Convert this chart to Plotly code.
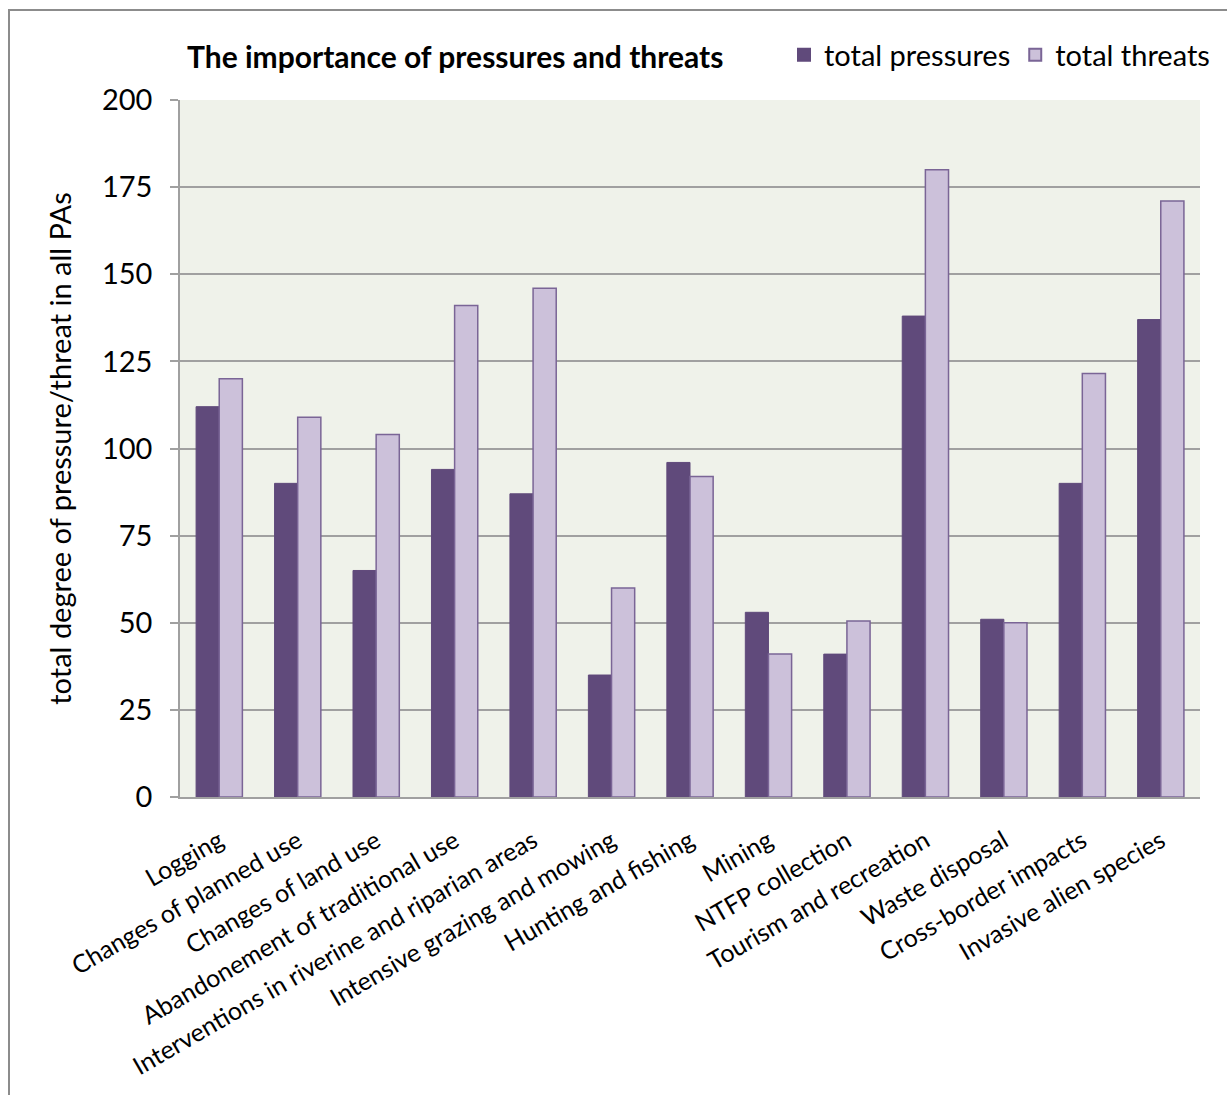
import plotly.graph_objects as go

categories = [
    "Logging",
    "Changes of planned use",
    "Changes of land use",
    "Abandonement of traditional use",
    "Interventions in riverine and riparian areas",
    "Intensive grazing and mowing",
    "Hunting and fishing",
    "Mining",
    "NTFP collection",
    "Tourism and recreation",
    "Waste disposal",
    "Cross-border impacts",
    "Invasive alien species",
]
total_pressures = [112, 90, 65, 94, 87, 35, 96, 53, 41, 138, 51, 90, 137]
total_threats = [120, 109, 104, 141, 146, 60, 92, 41, 50.5, 180, 50, 121.5, 171]
y_ticks = [0, 25, 50, 75, 100, 125, 150, 175, 200]

W, H = 1227, 1095
L, R, T, B = 180, 27, 100, 298
pw, ph = W - L - R, H - T - B


def px_x(x):
    return (x - L) / pw


def px_y(y):
    return (H - B - y) / ph


FONT = "Lato"

fig = go.Figure()
fig.add_trace(go.Bar(
    x=categories, y=total_pressures, name="total pressures",
    marker=dict(color="#604A7B", line=dict(color="#604A7B", width=1)),
))
fig.add_trace(go.Bar(
    x=categories, y=total_threats, name="total threats",
    marker=dict(color="#CCC1DA", line=dict(color="#7A6596", width=1.5)),
))

fig.update_layout(
    width=W, height=H,
    margin=dict(l=L, r=R, t=T, b=B, autoexpand=False),
    paper_bgcolor="white",
    plot_bgcolor="#EFF2EA",
    barmode="group",
    bargap=0.41,
    bargroupgap=0,
    font=dict(family=FONT, color="black"),
    title=dict(
        text="<b>The importance of pressures and threats</b>",
        x=px_x(187), xref="paper", xanchor="left",
        y=1 - 57 / H, yanchor="middle",
        font=dict(size=30, family=FONT, color="black"),
    ),
    legend=dict(
        orientation="h",
        x=px_x(784), xanchor="left",
        y=px_y(55), yanchor="middle",
        font=dict(size=29, family=FONT),
        itemsizing="constant",
        itemwidth=30,
        tracegroupgap=0,
        bgcolor="rgba(0,0,0,0)",
    ),
    showlegend=True,
    xaxis=dict(
        tickangle=-30,
        tickfont=dict(size=25, family=FONT),
        showline=True, linecolor="#A0A0A0", linewidth=1.5,
        ticks="", showgrid=False,
        ticklabelstandoff=18,
    ),
    yaxis=dict(
        range=[0, 200],
        tickvals=y_ticks,
        tickfont=dict(size=29, family=FONT),
        showline=True, linecolor="#A0A0A0", linewidth=1.5,
        ticks="outside", ticklen=8, tickcolor="#A0A0A0", tickwidth=1.5,
        ticklabelstandoff=12,
        showgrid=True, gridcolor="#A0A0A0", gridwidth=1.5,
        zeroline=False,
        title=dict(
            text="total degree of pressure/threat in all PAs",
            font=dict(size=29, family=FONT),
            standoff=22,
        ),
    ),
)

# outer chart frame
fig.add_shape(
    type="rect", xref="paper", yref="paper",
    x0=px_x(9), x1=px_x(W + 20), y0=px_y(H + 20), y1=px_y(10),
    line=dict(color="#8C8C8C", width=2), fillcolor="rgba(0,0,0,0)",
    layer="below",
)

fig.write_html("out.html")
